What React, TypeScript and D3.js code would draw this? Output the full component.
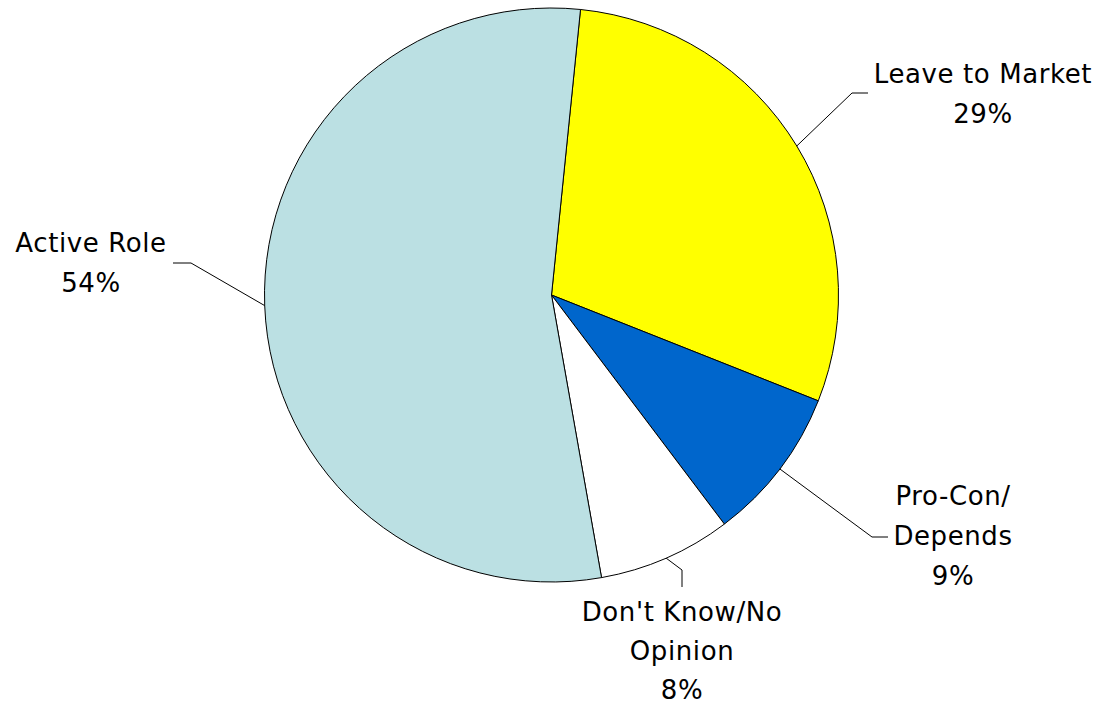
import React from "react";
import * as d3 from "d3";

const categories = ["Leave to Market", "Pro-Con/ Depends", "Don't Know/No Opinion", "Active Role"];
const labelLines = [["Leave to Market"], ["Pro-Con/", "Depends"], ["Don't Know/No", "Opinion"], ["Active Role"]];
const values = [29.4, 8.7, 7.5, 54.4];
const colors = ["#FFFF00", "#0066CC", "#FFFFFF", "#BBE0E3"];

// layout: label text center x / first baseline y, line height, leader elbow and end
const layout = [
  { tx: 983, ty: 83, lh: 40, elbow: [852, 93], end: [868, 93] },
  { tx: 953, ty: 505, lh: 40, elbow: [872, 537], end: [888, 537] },
  { tx: 682, ty: 621, lh: 39, elbow: [682, 570], end: [682, 587] },
  { tx: 91, ty: 252, lh: 40, elbow: [191, 263], end: [173, 263] },
];

export default function App() {
  const W = 1099, H = 705;
  const cx = 551.5, cy = 295, r = 287;
  const start = (5.8 * Math.PI) / 180;
  const pie = d3.pie<number>().sort(null).startAngle(start).endAngle(start + 2 * Math.PI);
  const arcs = pie(values);
  const arc = d3.arc<d3.PieArcDatum<number>>().innerRadius(0).outerRadius(r);
  return (
    <svg width={W} height={H} style={{ position: "absolute", left: 0, top: 0, background: "#fff" }}>
      <g transform={`translate(${cx},${cy})`}>
        {arcs.map((a, i) => (
          <path key={i} d={arc(a) || ""} fill={colors[i]} stroke="#000" strokeWidth={1} strokeLinejoin="round" />
        ))}
      </g>
      {arcs.map((a, i) => {
        const mid = (a.startAngle + a.endAngle) / 2;
        const sx = cx + r * Math.sin(mid);
        const sy = cy - r * Math.cos(mid);
        const L = layout[i];
        const lines = [...labelLines[i], `${Math.round(values[i])}%`];
        return (
          <g key={"l" + i}>
            <polyline
              points={`${sx},${sy} ${L.elbow[0]},${L.elbow[1]} ${L.end[0]},${L.end[1]}`}
              fill="none"
              stroke="#000"
              strokeWidth={1}
            />
            <text
              x={L.tx}
              y={L.ty}
              textAnchor="middle"
              fontFamily="'DejaVu Sans', sans-serif"
              fontSize={26}
              letterSpacing={0.6}
              fill="#000"
            >
              {lines.map((t, j) => (
                <tspan key={j} x={L.tx} y={L.ty + j * L.lh}>
                  {t}
                </tspan>
              ))}
            </text>
          </g>
        );
      })}
    </svg>
  );
}
